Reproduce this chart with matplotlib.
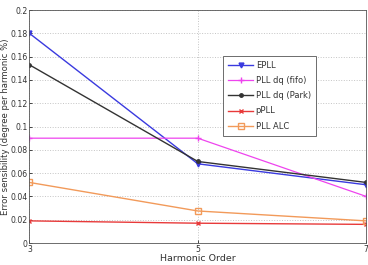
import matplotlib
matplotlib.use("Agg")
import matplotlib.pyplot as plt

harmonics = [3, 5, 7]
epll = [0.180, 0.068, 0.050]
pll_fifo = [0.090, 0.090, 0.040]
pll_park = [0.153, 0.070, 0.052]
ppll = [0.019, 0.017, 0.016]
pll_alc = [0.052, 0.0275, 0.019]

labels = ["EPLL", "PLL dq (fifo)", "PLL dq (Park)", "pPLL", "PLL ALC"]
yticks = [0, 0.02, 0.04, 0.06, 0.08, 0.1, 0.12, 0.14, 0.16, 0.18, 0.2]
yticklabels = ["0", "0.02", "0.04", "0.06", "0.08", "0.1", "0.12", "0.14", "0.16", "0.18", "0.2"]

fig = plt.figure(figsize=(3.68, 2.65), dpi=100)
ax = fig.add_axes([0.08, 0.083, 0.915, 0.879])

ax.plot(harmonics, epll, color="#3a3adf", marker="v", ms=3.5, lw=1.0, label=labels[0])
ax.plot(harmonics, pll_fifo, color="#ee44ee", marker="+", ms=4, lw=0.9, label=labels[1])
ax.plot(harmonics, pll_park, color="#333333", marker="o", ms=2.5, lw=1.0, label=labels[2])
ax.plot(harmonics, ppll, color="#e83a3a", marker="x", ms=3.5, lw=1.0, label=labels[3])
ax.plot(harmonics, pll_alc, color="#f29a5a", marker="s", ms=4, mfc="none", lw=1.0, label=labels[4])

ax.set_xlim(3, 7)
ax.set_ylim(0, 0.2)
ax.set_xticks(harmonics)
ax.set_yticks(yticks)
ax.set_yticklabels(yticklabels)
ax.tick_params(labelsize=5.6, direction="in", length=2.5, width=0.5, pad=1.2, labelcolor="#333333")
ax.grid(True, linestyle=":", color="#c4c4c4", lw=0.7)
for s in ax.spines.values():
    s.set_linewidth(0.6)
    s.set_color("#555555")

ax.set_xlabel("Harmonic Order", fontsize=6.8, labelpad=0.5, color="#333333")
ax.set_ylabel("Error sensibility (degree per harmonic %)", fontsize=6.1, color="#333333")
ax.yaxis.set_label_coords(-0.057, 0.5)

leg = ax.legend(loc="upper left", bbox_to_anchor=(0.563, 0.822), fontsize=6,
                fancybox=False, edgecolor="#555555", framealpha=1,
                handlelength=3.0, borderpad=0.6, labelspacing=0.75, handletextpad=0.3)
leg.get_frame().set_linewidth(0.6)
for t in leg.get_texts():
    t.set_color("#333333")

fig.savefig("out.png", dpi=100)
